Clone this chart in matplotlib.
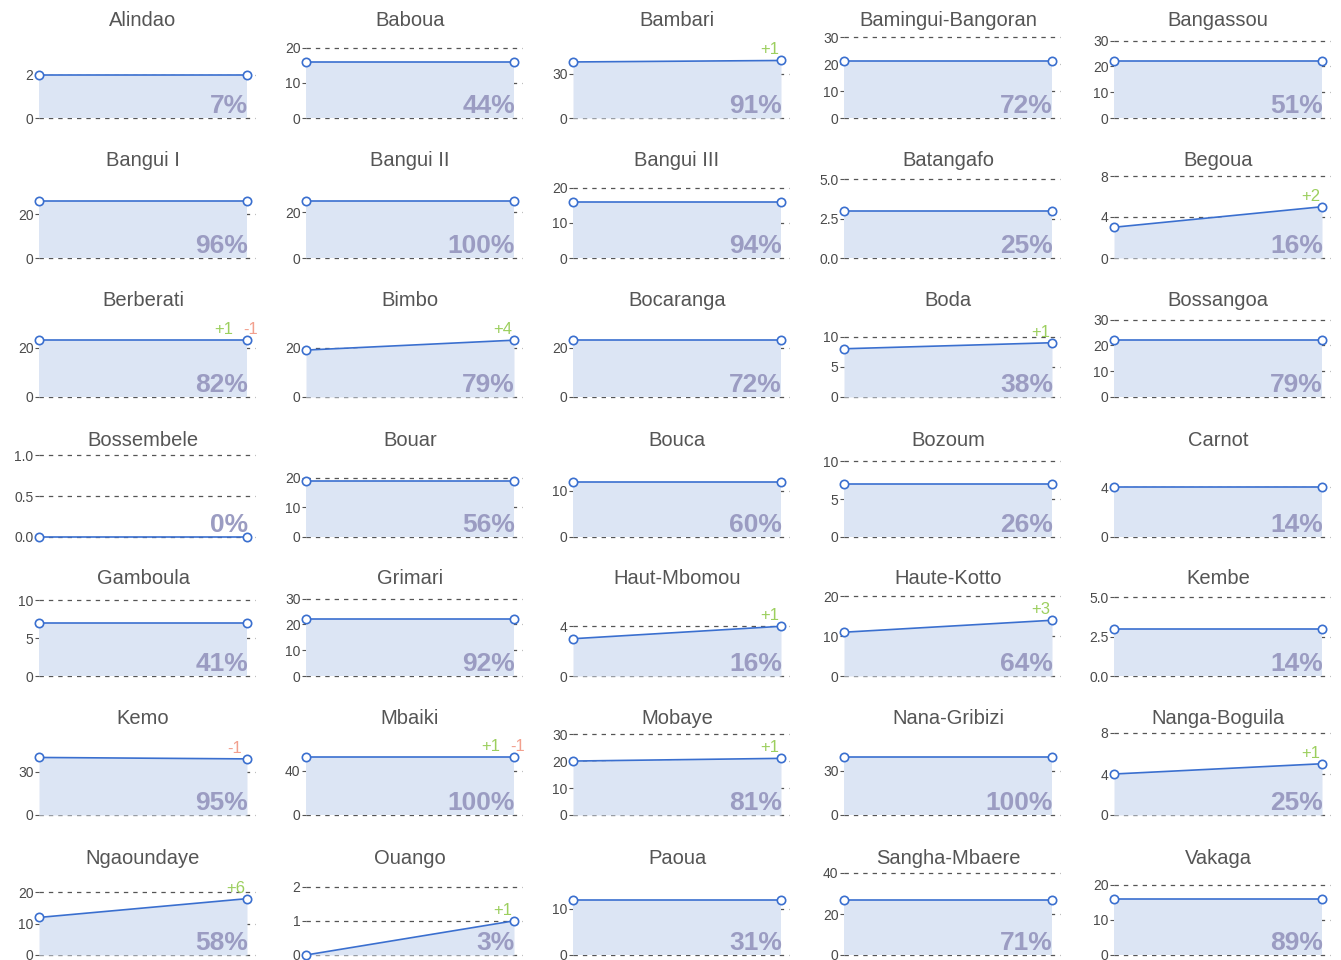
import numpy as np
import matplotlib
matplotlib.use("Agg")
import matplotlib.pyplot as plt

names = ["Alindao", "Baboua", "Bambari", "Bamingui-Bangoran", "Bangassou",
         "Bangui I", "Bangui II", "Bangui III", "Batangafo", "Begoua",
         "Berberati", "Bimbo", "Bocaranga", "Boda", "Bossangoa",
         "Bossembele", "Bouar", "Bouca", "Bozoum", "Carnot",
         "Gamboula", "Grimari", "Haut-Mbomou", "Haute-Kotto", "Kembe",
         "Kemo", "Mbaiki", "Mobaye", "Nana-Gribizi", "Nanga-Boguila",
         "Ngaoundaye", "Ouango", "Paoua", "Sangha-Mbaere", "Vakaga"]
start_vals = [2, 16, 38, 21, 22,
              26, 25, 16, 3, 3,
              23, 19, 23, 8, 22,
              0, 19, 12, 7, 4,
              7, 22, 3, 11, 3,
              40, 52, 20, 39, 4,
              12, 0, 12, 27, 16]
end_vals = [2, 16, 39, 21, 22,
            26, 25, 16, 3, 5,
            23, 23, 23, 9, 22,
            0, 19, 12, 7, 4,
            7, 22, 4, 14, 3,
            39, 52, 21, 39, 5,
            18, 1, 12, 27, 16]
pct = [7, 44, 91, 72, 51,
       96, 100, 94, 25, 16,
       82, 79, 72, 38, 79,
       0, 56, 60, 26, 14,
       41, 92, 16, 64, 14,
       95, 100, 81, 100, 25,
       58, 3, 31, 71, 89]
gains = [0, 0, 1, 0, 0,
         0, 0, 0, 0, 2,
         1, 4, 0, 1, 0,
         0, 0, 0, 0, 0,
         0, 0, 1, 3, 0,
         0, 1, 1, 0, 1,
         6, 1, 0, 0, 0]
losses = [0, 0, 0, 0, 0,
          0, 0, 0, 0, 0,
          1, 0, 0, 0, 0,
          0, 0, 0, 0, 0,
          0, 0, 0, 0, 0,
          1, 1, 0, 0, 0,
          0, 0, 0, 0, 0]
tick_steps = [2, 10, 30, 10, 10,
              20, 20, 10, 2.5, 4,
              20, 20, 20, 5, 10,
              0.5, 10, 10, 5, 4,
              5, 10, 4, 10, 2.5,
              30, 40, 10, 30, 4,
              10, 1, 10, 20, 10]

W, H = 1341, 960
fig = plt.figure(figsize=(W / 100, H / 100), dpi=100)
plt.rcParams['font.family'] = ['Liberation Sans', 'DejaVu Sans']

col_x0 = [39, 306, 573, 844, 1114]
row_base = [118, 258, 397, 537, 676, 815, 955]
plot_w = 208
ext_w = 216
ax_h = 82

line_c = '#3a6fcf'
fill_c = '#dce5f4'
grid_c = '#555555'
pct_c = '#9b9cc2'
gain_c = '#9ccf5e'
loss_c = '#f2a08e'

for i, name in enumerate(names):
    r, c = divmod(i, 5)
    x0 = col_x0[c]
    yb = row_base[r]
    vmax = max(start_vals[i], end_vals[i])
    step = tick_steps[i]
    dom = 1.4 * vmax + 1
    ticks = np.arange(0, dom * 1.04 + 1e-9, step)
    top = max(dom, ticks[-1])
    ax = fig.add_axes([x0 / W, (H - yb) / H, ext_w / W, ax_h / H])
    ax.set_xlim(0, ext_w / plot_w)
    ax.set_ylim(0, top)
    for s in ax.spines.values():
        s.set_visible(False)
    ax.set_xticks([])
    ax.set_yticks(ticks)
    if step < 1 or step == 2.5:
        labels = [f"{t:.1f}" for t in ticks]
    else:
        labels = [f"{int(round(t))}" for t in ticks]
    ax.set_yticklabels(labels)
    ax.tick_params(axis='y', length=3, width=0.8, color='#555555',
                   labelsize=10, labelcolor='#4a4a4a', pad=1)
    for t in ticks:
        ax.axhline(t, color=grid_c, lw=0.9, ls=(0, (3.5, 4)), zorder=1,
                   clip_on=False)
    xs = [0, 1]
    ys = [start_vals[i], end_vals[i]]
    ax.fill_between(xs, ys, 0, color=fill_c, lw=0, zorder=2)
    ax.plot(xs, ys, color=line_c, lw=1.2, zorder=3, clip_on=False)
    ax.plot(xs, ys, 'o', ms=6, mfc='white', mec=line_c, mew=1.2, zorder=4,
            clip_on=False)
    # percentage
    fig.text((x0 + plot_w + 1) / W, (H - yb + 5) / H, f"{pct[i]}%",
             ha='right', va='baseline', fontsize=19, fontweight='bold',
             color=pct_c, zorder=5)
    # title
    fig.text((x0 + plot_w / 2) / W, (H - (yb - 97)) / H, name,
             ha='center', va='center', fontsize=14.5, color='#555555')
    # change annotations
    ey = ax.transData.transform((1, end_vals[i]))[1]
    ex = x0 + plot_w
    if gains[i] and losses[i]:
        fig.text((ex - 14) / W, (ey + 6) / H, f"+{gains[i]}", ha='right',
                 va='baseline', fontsize=12, color=gain_c)
        fig.text((ex - 4) / W, (ey + 6) / H, f"-{losses[i]}", ha='left',
                 va='baseline', fontsize=12, color=loss_c)
    elif gains[i]:
        fig.text((ex - 2) / W, (ey + 6) / H, f"+{gains[i]}", ha='right',
                 va='baseline', fontsize=12, color=gain_c)
    elif losses[i]:
        fig.text((ex - 5) / W, (ey + 6) / H, f"-{losses[i]}", ha='right',
                 va='baseline', fontsize=12, color=loss_c)

fig.savefig("out.png", dpi=100)
